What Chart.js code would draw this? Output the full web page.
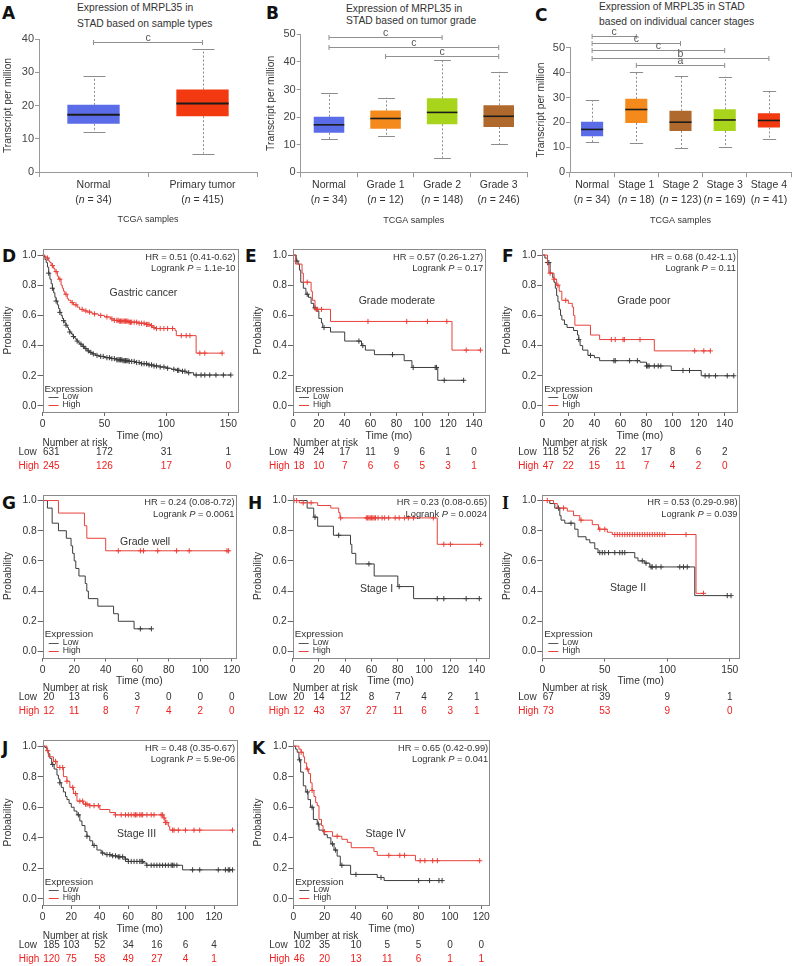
<!DOCTYPE html>
<html>
<head>
<meta charset="utf-8">
<script src="https://cdn.jsdelivr.net/npm/chart.js@4.4.1/dist/chart.umd.min.js"></script>
<style>
  body { margin: 0; background: #fff; }
  #fig { position: relative; width: 792px; height: 966px; overflow: hidden; font-family: "Liberation Sans", Arial, sans-serif; color: #333; }
  canvas { position: absolute; }
  .lt { position: absolute; font: bold 17px "DejaVu Sans", sans-serif; line-height: 17px; color: #111; }
  .tt { position: absolute; font-size: 10.3px; line-height: 12px; white-space: nowrap; color: #333; }
</style>
</head>
<body>
<div id="fig">
  <div class="lt" style="left:2px;top:5px">A</div>
  <div class="lt" style="left:266px;top:5px">B</div>
  <div class="lt" style="left:535px;top:7px">C</div>
  <div class="lt" style="left:2px;top:248px">D</div>
  <div class="lt" style="left:245px;top:248px">E</div>
  <div class="lt" style="left:502px;top:248px">F</div>
  <div class="lt" style="left:2px;top:495px">G</div>
  <div class="lt" style="left:248px;top:495px">H</div>
  <div class="lt" style="left:502px;top:495px;font-family:'Liberation Serif',serif;font-size:18px">I</div>
  <div class="lt" style="left:2px;top:740px">J</div>
  <div class="lt" style="left:252px;top:740px">K</div>

  <div class="tt" style="left:77px;top:2px">Expression of MRPL35 in</div>
  <div class="tt" style="left:77px;top:18px">STAD based on sample types</div>
  <div class="tt" style="left:346px;top:3px">Expression of MRPL35 in</div>
  <div class="tt" style="left:346px;top:15px">STAD based on tumor grade</div>
  <div class="tt" style="left:599px;top:1px">Expression of MRPL35 in STAD</div>
  <div class="tt" style="left:599px;top:16px">based on individual cancer stages</div>
</div>

<script>
// ---------- box plot data: [min, q1, median, q3, max] ----------
const aCats = ['Normal', 'Primary tumor'];
const aN = [34, 415];
const aStats = [[12, 14.5, 17.2, 20.2, 28.9], [5.5, 16.8, 20.6, 24.8, 37]];
const aColors = ['#5a6ce8', '#f2390f'];
const aSig = [[0, 1, 39.2, 'c']];

const bCats = ['Normal', 'Grade 1', 'Grade 2', 'Grade 3'];
const bN = [34, 12, 148, 246];
const bStats = [[12, 14.3, 17.2, 20.1, 28.8], [13, 15.8, 19.5, 22.4, 27], [5.3, 17.4, 21.7, 26.8, 40.6], [10.3, 16.4, 20.3, 24.3, 36.4]];
const bColors = ['#5a6ce8', '#f48a1c', '#a8d41b', '#b0692c'];
const bSig = [[0, 2, 48.9, 'c'], [0, 3, 45.3, 'c'], [1, 3, 42, 'c']];

const cCats = ['Normal', 'Stage 1', 'Stage 2', 'Stage 3', 'Stage 4'];
const cN = [34, 18, 123, 169, 41];
const cStats = [[12.2, 14.5, 17.2, 20.3, 29], [11.8, 19.8, 25.2, 29.5, 40.2], [9.7, 16.6, 20.1, 24.7, 38.7], [10.3, 16.6, 21, 25.3, 38.3], [13.2, 18, 20.8, 23.7, 32.5]];
const cColors = ['#5a6ce8', '#f48a1c', '#b0692c', '#a8d41b', '#f2390f'];
const cSig = [[0, 1, 54.8, 'c'], [0, 2, 52, 'c'], [0, 3, 48.9, 'c'], [0, 4, 46, 'b'], [1, 3, 42.9, 'a']];

// ---------- survival data: steps [time, survival], censor times, numbers at risk ----------
const kmYTicks = [0, 0.2, 0.4, 0.6, 0.8, 1.0];

const dTicks = [0, 50, 100, 150];
const dLow = [[0,1],[1,0.99],[2,0.97],[3,0.95],[4,0.92],[5,0.88],[6,0.84],[7,0.81],[8,0.78],[9,0.75],[10,0.72],[11,0.695],[12,0.67],[13,0.645],[14,0.62],[15,0.6],[16,0.58],[17,0.565],[18,0.55],[19,0.535],[20,0.52],[21,0.505],[22,0.49],[23,0.48],[24,0.47],[25,0.46],[26,0.45],[27,0.44],[28,0.43],[29,0.42],[30,0.41],[32,0.395],[34,0.38],[36,0.365],[38,0.355],[40,0.345],[43,0.335],[46,0.328],[50,0.32],[55,0.314],[60,0.306],[65,0.3],[70,0.295],[75,0.288],[80,0.28],[85,0.272],[90,0.265],[95,0.258],[100,0.25],[104,0.243],[108,0.236],[112,0.23],[116,0.22],[122,0.205]];
const dLowCens = [5,8,11,14,17,19,22,25,28,31,33,35,37,39,41,44,47,49,52,54,56,58,60,61,62,63,64,65,66,67,68,69,70,72,74,76,78,80,82,84,86,88,90,92,95,98,101,106,109,110,113,115,118,124,128,131,135,140,146,152];
const dHigh = [[0,1],[2,0.99],[3,0.98],[5,0.96],[6,0.95],[7,0.93],[9,0.91],[10,0.89],[12,0.86],[13,0.84],[15,0.8],[16,0.78],[17,0.76],[18,0.74],[20,0.71],[21,0.7],[23,0.685],[25,0.67],[28,0.655],[30,0.64],[33,0.63],[36,0.622],[40,0.61],[45,0.6],[50,0.59],[55,0.577],[58,0.567],[62,0.562],[70,0.555],[78,0.548],[84,0.54],[87,0.532],[89,0.52],[91,0.513],[107,0.5],[108,0.466],[124,0.35]];
const dHighCens = [4,8,11,14,19,24,27,32,35,38,42,47,52,56,58,60,61,62,63,64,65,66,67,68,69,70,71,72,74,76,78,80,82,84,85,86,88,90,92,95,98,101,105,112,116,119,127,131,145];
const dRiskLow = [631, 172, 31, 1];
const dRiskHigh = [245, 126, 17, 0];

const eTicks = [0, 20, 40, 60, 80, 100, 120, 140];
const eLow = [[0,1],[2.5,0.96],[4,0.94],[5,0.9],[6,0.82],[8,0.78],[10,0.74],[12,0.72],[14,0.68],[16,0.65],[18,0.63],[20,0.58],[22,0.55],[23,0.52],[29,0.49],[40,0.43],[53,0.4],[56,0.37],[63,0.34],[86,0.3],[92,0.255],[112,0.17]];
const eLowCens = [3,11,17,24,51,54,77,93,110,111,117,132];
const eHigh = [[0,1],[2,0.94],[7,0.88],[8,0.82],[14,0.76],[15,0.7],[17,0.64],[29,0.56],[123,0.37]];
const eHighCens = [11,18,19,22,58,88,104,119,134,145];
const eRiskLow = [49, 24, 17, 11, 9, 6, 1, 0];
const eRiskHigh = [18, 10, 7, 6, 6, 5, 3, 1];

const fTicks = [0, 20, 40, 60, 80, 100, 120, 140];
const fLow = [[0,1],[2,0.98],[4,0.95],[6,0.88],[8,0.85],[9,0.82],[10,0.78],[11,0.73],[12,0.69],[13,0.64],[14,0.6],[15,0.57],[17,0.54],[19,0.52],[24,0.5],[27,0.47],[28,0.44],[29,0.4],[31,0.37],[35,0.335],[40,0.32],[44,0.3],[75,0.29],[80,0.265],[99,0.235],[122,0.2]];
const fLowCens = [4,5,28,37,55,56,67,73,80,81,82,86,89,91,108,113,125,128,133,142,147];
const fHigh = [[0,1],[4,0.94],[5,0.88],[9,0.84],[11,0.8],[13,0.76],[15,0.7],[20,0.68],[23,0.655],[24,0.6],[25,0.535],[37,0.47],[44,0.44],[86,0.365]];
const fHighCens = [6,9,12,18,53,56,62,63,75,117,124,129];
const fRiskLow = [118, 52, 26, 22, 17, 8, 6, 2];
const fRiskHigh = [47, 22, 15, 11, 7, 4, 2, 0];

const gTicks = [0, 20, 40, 60, 80, 100, 120];
const gLow = [[0,1],[3,0.95],[6,0.85],[10,0.8],[15,0.75],[18,0.7],[19,0.65],[20,0.6],[21,0.55],[23,0.5],[27,0.45],[28,0.4],[29,0.35],[35,0.3],[45,0.25],[48,0.2],[58,0.15]];
const gLowCens = [62, 69];
const gHigh = [[0,1],[10,0.917],[26.5,0.833],[28,0.75],[40,0.667]];
const gHighCens = [48,62,64,73,85,93,117,118];
const gRiskLow = [20, 13, 6, 3, 0, 0, 0];
const gRiskHigh = [12, 11, 8, 7, 4, 2, 0];

const hTicks = [0, 20, 40, 60, 80, 100, 120, 140];
const hLow = [[0,1],[11,0.95],[16,0.89],[19,0.83],[31,0.77],[44,0.71],[45,0.65],[48,0.58],[62,0.5],[80,0.43],[92,0.35]];
const hLowCens = [17,35,58,81,110,115,132,142];
const hHigh = [[0,1],[5,0.985],[19,0.967],[29,0.95],[35,0.92],[36,0.885],[110,0.71]];
const hHighCens = [1,3,8,14,36.5,56,57,58,59,60,61,62,63,65,68,70,73,78,81,85,88,92,107,115,120,143];
const hRiskLow = [20, 14, 12, 8, 7, 4, 2, 1];
const hRiskHigh = [12, 43, 37, 27, 11, 6, 3, 1];

const iTicks = [0, 50, 100, 150];
const iLow = [[0,1],[6,0.98],[10,0.95],[14,0.9],[15,0.87],[18,0.85],[26,0.81],[28.6,0.76],[35,0.74],[38,0.72],[42,0.68],[44.6,0.655],[74,0.62],[76.6,0.6],[82,0.585],[86,0.56],[122,0.37]];
const iLowCens = [13,23,46,48,50,53,58,62,64,66,80,83,87,88,91,95,110,113,116,148,151];
const iHigh = [[0,1],[9,0.98],[12,0.95],[20,0.93],[25,0.9],[30,0.87],[40,0.84],[45,0.81],[52,0.79],[56,0.775],[123,0.385]];
const iHighCens = [4,17,31,46,50,58,60,62,64,66,68,70,72,74,76,78,80,82,84,86,88,90,92,94,96,98,115,129];
const iRiskLow = [67, 39, 9, 1];
const iRiskHigh = [73, 53, 9, 0];

const jTicks = [0, 20, 40, 60, 80, 100, 120];
const jLow = [[0,1],[1.6,0.99],[3,0.97],[4,0.95],[5,0.92],[6.3,0.88],[8,0.85],[10,0.81],[11,0.785],[12,0.76],[13,0.73],[14.5,0.7],[16,0.67],[17,0.65],[18.5,0.625],[20,0.6],[22,0.575],[24,0.55],[26,0.51],[27.5,0.48],[29.6,0.44],[31,0.41],[33,0.38],[35,0.35],[38,0.32],[41,0.3],[43.7,0.29],[48,0.282],[52,0.275],[57.7,0.26],[60,0.245],[70.5,0.235],[72.8,0.22],[98,0.19]];
const jLowCens = [7,12,25,31,36,42,45,47,49,51,53,54,56,58,60,62,64,66,68,69,70,73,76,78,80,82,84,86,88,90,91,92,94,105,110,123,128,130,131,133];
const jHigh = [[0,1],[3,0.97],[4,0.93],[7.5,0.9],[10,0.86],[14.5,0.8],[17,0.77],[19,0.73],[21.5,0.69],[24,0.64],[28.5,0.62],[33,0.61],[40,0.585],[47,0.565],[50.7,0.55],[84.5,0.53],[85.7,0.5],[88,0.475],[89,0.45]];
const jHighCens = [3.5,9,12,14,17,21,23,26,28,30,31,33,36,39,51,55,58,60,62,64,65,66,68,69,70,73,76,78,83,84,85,86,87,91,92,95,100,106,110,133];
const jRiskLow = [185, 103, 52, 34, 16, 6, 4];
const jRiskHigh = [120, 75, 58, 49, 27, 4, 1];

const kTicks = [0, 20, 40, 60, 80, 100, 120];
const kLow = [[0,1],[1.5,0.98],[2.5,0.96],[3.6,0.91],[4.7,0.83],[6.4,0.74],[8,0.7],[9.4,0.65],[11,0.6],[12.8,0.52],[15.3,0.49],[16.4,0.45],[19.6,0.42],[21.7,0.4],[24,0.36],[26,0.32],[28,0.28],[30,0.22],[36.6,0.16],[53.6,0.14],[58,0.12]];
const kLowCens = [4,9,12,16,25,27,31,40,56,80,87,93,95];
const kHigh = [[0,1],[3.6,0.98],[5,0.96],[6.4,0.93],[7.2,0.89],[8.5,0.85],[9.8,0.82],[11,0.76],[12,0.71],[13.2,0.67],[14.3,0.63],[15.3,0.61],[16.4,0.52],[18,0.48],[19,0.44],[25,0.41],[31,0.39],[34.5,0.37],[37,0.335],[51.5,0.31],[53.6,0.285],[78,0.25]];
const kHighCens = [5,9,12,20,28,61,68,71,81,84,89,92,119];
const kRiskLow = [102, 35, 10, 5, 5, 0, 0];
const kRiskHigh = [46, 20, 13, 11, 6, 1, 1];

// ---------- drawing ----------
const FONT = '"Liberation Sans", Arial, sans-serif';
const RED = '#e8403a';
const RISKRED = '#ee2020';
const GREY = '#3c3c3c';
const FRAME = '#8a8a8a';

Chart.defaults.font.family = FONT;
Chart.defaults.color = '#333';
Chart.defaults.animation = false;

function addCanvas(x, y, w, h) {
  const c = document.createElement('canvas');
  c.width = w; c.height = h;
  c.style.left = x + 'px'; c.style.top = y + 'px';
  document.getElementById('fig').appendChild(c);
  return c;
}

function line(ctx, x1, y1, x2, y2) {
  ctx.beginPath(); ctx.moveTo(x1, y1); ctx.lineTo(x2, y2); ctx.stroke();
}

// text made of [string, italic] pieces
function richText(ctx, segs, x, y, align, size) {
  let total = 0;
  segs.forEach(s => {
    ctx.font = (s[1] ? 'italic ' : '') + size + 'px ' + FONT;
    s.w = ctx.measureText(s[0]).width;
    total += s.w;
  });
  let x0 = align === 'right' ? x - total : align === 'center' ? x - total / 2 : x;
  ctx.textAlign = 'left';
  segs.forEach(s => {
    ctx.font = (s[1] ? 'italic ' : '') + size + 'px ' + FONT;
    ctx.fillText(s[0], x0, y);
    x0 += s.w;
  });
}

function boxPlugin(cfg) {
  return {
    id: 'box' + cfg.id,
    afterDatasetsDraw(chart) {
      const {ctx, chartArea: a, scales: {x, y}} = chart;
      const bars = chart.getDatasetMeta(0).data;
      ctx.save();
      bars.forEach((bar, i) => {
        const s = cfg.stats[i];
        const bx = Math.round(bar.x) + 0.5, w = bar.width;
        ctx.strokeStyle = '#8c8c8c'; ctx.lineWidth = 1;
        ctx.setLineDash([2, 2]);
        line(ctx, bx, y.getPixelForValue(s[3]), bx, y.getPixelForValue(s[4]));
        line(ctx, bx, y.getPixelForValue(s[1]), bx, y.getPixelForValue(s[0]));
        ctx.setLineDash([]);
        const cw = w * cfg.cap / 2;
        [s[0], s[4]].forEach(v => {
          const py = Math.round(y.getPixelForValue(v)) + 0.5;
          line(ctx, bx - cw, py, bx + cw, py);
        });
        ctx.strokeStyle = '#1c1c1c'; ctx.lineWidth = cfg.medW;
        const my = y.getPixelForValue(s[2]);
        line(ctx, bar.x - w / 2, my, bar.x + w / 2, my);
      });
      // significance brackets
      ctx.strokeStyle = '#909090'; ctx.lineWidth = 1;
      ctx.fillStyle = '#555';
      cfg.sig.forEach(([i, j, v, lab]) => {
        const x1 = x.getPixelForValue(i), x2 = x.getPixelForValue(j);
        const py = Math.round(y.getPixelForValue(v)) + 0.5;
        line(ctx, x1, py, x2, py);
        line(ctx, x1, py - 2.5, x1, py + 2.5);
        line(ctx, x2, py - 2.5, x2, py + 2.5);
        ctx.font = '10.5px ' + FONT; ctx.textAlign = 'center'; ctx.textBaseline = 'alphabetic';
        ctx.fillText(lab, (x1 + x2) / 2, py - 2);
      });
      // category labels
      ctx.fillStyle = '#333'; ctx.textBaseline = 'middle';
      cfg.cats.forEach((c, i) => {
        const px = x.getPixelForValue(i);
        ctx.font = '10.5px ' + FONT; ctx.textAlign = 'center';
        ctx.fillText(c, px, a.bottom + 13);
        richText(ctx, [['(', false], ['n', true], [' = ' + cfg.n[i] + ')', false]], px, a.bottom + 28, 'center', 10.5);
      });
      ctx.font = '9px ' + FONT; ctx.textAlign = 'center';
      ctx.fillText('TCGA samples', (a.left + a.right) / 2, a.bottom + 48);
      ctx.restore();
    }
  };
}

function boxChart(cfg) {
  const W = 264, H = 225;
  const cv = addCanvas(cfg.cx, 0, W, H);
  const yW = cfg.left - cfg.cx;
  new Chart(cv, {
    type: 'bar',
    data: {
      labels: cfg.cats,
      datasets: [{
        data: cfg.stats.map(s => [s[1], s[3]]),
        backgroundColor: cfg.colors,
        barPercentage: cfg.barPct,
        categoryPercentage: 1,
        borderWidth: 0
      }]
    },
    options: {
      responsive: false,
      animation: false,
      layout: { padding: { left: 0, top: cfg.top, right: cfg.cx + W - cfg.right, bottom: H - cfg.bottom - 6 } },
      plugins: { legend: { display: false }, tooltip: { enabled: false } },
      scales: {
        x: {
          offset: true,
          grid: { offset: true, drawOnChartArea: false, tickLength: 5, color: '#999' },
          border: { color: '#999' },
          ticks: { display: false },
          afterFit: s => { s.height = 6; }
        },
        y: {
          min: 0, max: cfg.yMax,
          grid: { drawOnChartArea: false, tickLength: 4, color: '#999' },
          border: { color: '#999' },
          ticks: { stepSize: 10, padding: 1, font: { size: 11 }, color: '#444' },
          title: { display: true, text: 'Transcript per million', font: { size: 10.3 }, padding: { top: cfg.titlePad, bottom: 0 }, color: '#333' },
          afterFit: s => { s.width = yW; }
        }
      }
    },
    plugins: [boxPlugin(cfg)]
  });
}

boxChart({ id: 'A', cx: 0, left: 39, right: 257, top: 39, bottom: 172, yMax: 40, cats: aCats, n: aN, stats: aStats, colors: aColors, sig: aSig, barPct: 0.48, cap: 0.42, medW: 2, titlePad: 2 });
boxChart({ id: 'B', cx: 264, left: 300.7, right: 527, top: 34.3, bottom: 172.3, yMax: 50, cats: bCats, n: bN, stats: bStats, colors: bColors, sig: bSig, barPct: 0.54, cap: 0.55, medW: 1.6, titlePad: 0.7 });
boxChart({ id: 'C', cx: 528, left: 570, right: 791, top: 47.7, bottom: 172.3, yMax: 50, cats: cCats, n: cN, stats: cStats, colors: cColors, sig: cSig, barPct: 0.5, cap: 0.6, medW: 1.6, titlePad: 7 });

// ---------- Kaplan-Meier panels ----------
function survAt(steps, t) {
  let s = 1;
  steps.forEach(([x, y]) => { if (x <= t) s = y; });
  return s;
}
function stepData(steps, cens) {
  const pts = steps.map(([x, y]) => ({ x, y }));
  const end = Math.max(...cens);
  const last = steps[steps.length - 1];
  if (end > last[0]) pts.push({ x: end, y: last[1] });
  return pts;
}

function kmPlugin(p) {
  return {
    id: 'km' + p.id,
    afterDraw(chart) {
      const {ctx, chartArea: a, scales: {x, y}} = chart;
      ctx.save();
      ctx.strokeStyle = FRAME; ctx.lineWidth = 1;
      ctx.strokeRect(Math.round(a.left) + 0.5, Math.round(a.top) + 0.5, Math.round(a.right - a.left), Math.round(a.bottom - a.top));
      ctx.fillStyle = '#333'; ctx.textBaseline = 'middle';
      // HR and log-rank P
      richText(ctx, [['HR = ' + p.hr, false]], a.right - 1.5, a.top + 8, 'right', 9.3);
      richText(ctx, [['Logrank ', false], ['P', true], [' = ' + p.p, false]], a.right - 1.5, a.top + 19.5, 'right', 9.3);
      // subgroup name
      ctx.font = '10.5px ' + FONT; ctx.textAlign = 'center';
      ctx.fillText(p.name, x.getPixelForValue(p.nameAt[0]), y.getPixelForValue(p.nameAt[1]));
      // legend
      ctx.textAlign = 'left';
      ctx.font = '9.8px ' + FONT;
      ctx.fillText('Expression', a.left + 2, a.bottom - 23);
      ctx.font = '8.7px ' + FONT;
      ctx.lineWidth = 1;
      ctx.strokeStyle = '#555';
      line(ctx, a.left + 6, Math.round(a.bottom - 15) + 0.5, a.left + 16, Math.round(a.bottom - 15) + 0.5);
      ctx.fillText('Low', a.left + 20, a.bottom - 15);
      ctx.strokeStyle = RED;
      line(ctx, a.left + 6, Math.round(a.bottom - 7) + 0.5, a.left + 16, Math.round(a.bottom - 7) + 0.5);
      ctx.fillText('High', a.left + 20, a.bottom - 7);
      // number at risk
      ctx.font = '10px ' + FONT;
      ctx.fillText('Number at risk', a.left, a.bottom + 31);
      [[p.riskLow, 'Low', '#333', 40], [p.riskHigh, 'High', RISKRED, 54]].forEach(([vals, lab, col, dy]) => {
        ctx.fillStyle = col; ctx.textAlign = 'left';
        ctx.fillText(lab, a.left - 24, a.bottom + dy);
        vals.forEach((v, i) => {
          const px = x.getPixelForValue(p.ticks[i]);
          ctx.textAlign = i === 0 ? 'left' : 'center';
          ctx.fillText(String(v), i === 0 ? px + 0.5 : px, a.bottom + dy);
        });
      });
      ctx.restore();
    }
  };
}

function kmChart(p) {
  const cx = Math.floor(p.left) - 42, cy = Math.floor(p.top) - 10;
  const w = Math.ceil(p.right) + 14 - cx, h = Math.ceil(p.bottom) + 62 - cy;
  const cv = addCanvas(cx, cy, w, h);
  const censSet = (steps, times, col) => ({
    data: times.map(t => ({ x: t, y: survAt(steps, t) })),
    showLine: false, pointStyle: 'cross', pointRadius: 2.6,
    pointBorderColor: col, pointBackgroundColor: col, pointBorderWidth: 1, borderColor: col
  });
  const curve = (steps, times, col) => ({
    data: stepData(steps, times), stepped: true,
    borderColor: col, borderWidth: 1, pointRadius: 0, fill: false
  });
  new Chart(cv, {
    type: 'line',
    data: {
      datasets: [
        censSet(p.high, p.highCens, RED), curve(p.high, p.highCens, RED),
        censSet(p.low, p.lowCens, GREY), curve(p.low, p.lowCens, GREY)
      ]
    },
    options: {
      responsive: false,
      animation: false,
      layout: { padding: { left: p.left - cx - 42, top: p.top - cy, right: cx + w - p.right, bottom: cy + h - p.bottom - 31 } },
      plugins: { legend: { display: false }, tooltip: { enabled: false } },
      scales: {
        x: {
          type: 'linear', min: 0, max: p.xMax,
          afterBuildTicks: s => { s.ticks = p.ticks.map(v => ({ value: v })); },
          grid: { drawOnChartArea: false, tickLength: 4, color: '#666' },
          border: { display: false },
          ticks: { autoSkip: false, maxRotation: 0, padding: 2, font: { size: 10.3 }, callback: v => String(v) },
          title: { display: true, text: 'Time (mo)', font: { size: 10.3 }, padding: { top: 0, bottom: 1 } },
          afterFit: s => { s.height = 31; }
        },
        y: {
          min: -0.04, max: 1.04,
          afterBuildTicks: s => { s.ticks = kmYTicks.map(v => ({ value: v })); },
          grid: { drawOnChartArea: false, tickLength: 5, color: '#666' },
          border: { display: false },
          ticks: { padding: 1, font: { size: 10.3 }, callback: v => v.toFixed(1) },
          title: { display: true, text: 'Probability', font: { size: 10.3 }, padding: { top: 1, bottom: 0 } },
          afterFit: s => { s.width = 42; }
        }
      }
    },
    plugins: [kmPlugin(p)]
  });
}

kmChart({ id: 'D', left: 42.5, right: 237, top: 249, bottom: 412, xMax: 157, ticks: dTicks, low: dLow, lowCens: dLowCens, high: dHigh, highCens: dHighCens, riskLow: dRiskLow, riskHigh: dRiskHigh, hr: '0.51 (0.41-0.62)', p: '1.1e-10', name: 'Gastric cancer', nameAt: [81.5, 0.75] });
kmChart({ id: 'E', left: 293, right: 484.7, top: 249, bottom: 412, xMax: 148.3, ticks: eTicks, low: eLow, lowCens: eLowCens, high: eHigh, highCens: eHighCens, riskLow: eRiskLow, riskHigh: eRiskHigh, hr: '0.57 (0.26-1.27)', p: '0.17', name: 'Grade moderate', nameAt: [80.4, 0.695] });
kmChart({ id: 'F', left: 542.3, right: 737.3, top: 249, bottom: 412, xMax: 149.7, ticks: fTicks, low: fLow, lowCens: fLowCens, high: fHigh, highCens: fHighCens, riskLow: fRiskLow, riskHigh: fRiskHigh, hr: '0.68 (0.42-1.1)', p: '0.11', name: 'Grade poor', nameAt: [78, 0.695] });
kmChart({ id: 'G', left: 42.7, right: 236, top: 494.5, bottom: 657.5, xMax: 122.7, ticks: gTicks, low: gLow, lowCens: gLowCens, high: gHigh, highCens: gHighCens, riskLow: gRiskLow, riskHigh: gRiskHigh, hr: '0.24 (0.08-0.72)', p: '0.0061', name: 'Grade well', nameAt: [65, 0.727] });
kmChart({ id: 'H', left: 292.7, right: 488.5, top: 494.5, bottom: 657.5, xMax: 149, ticks: hTicks, low: hLow, lowCens: hLowCens, high: hHigh, highCens: hHighCens, riskLow: hRiskLow, riskHigh: hRiskHigh, hr: '0.23 (0.08-0.65)', p: '0.0024', name: 'Stage I', nameAt: [63.8, 0.414] });
kmChart({ id: 'I', left: 542.3, right: 739, top: 494.5, bottom: 657.5, xMax: 157.4, ticks: iTicks, low: iLow, lowCens: iLowCens, high: iHigh, highCens: iHighCens, riskLow: iRiskLow, riskHigh: iRiskHigh, hr: '0.53 (0.29-0.98)', p: '0.039', name: 'Stage II', nameAt: [68.6, 0.417] });
kmChart({ id: 'J', left: 42.7, right: 236.7, top: 740, bottom: 905, xMax: 135.9, ticks: jTicks, low: jLow, lowCens: jLowCens, high: jHigh, highCens: jHighCens, riskLow: jRiskLow, riskHigh: jRiskHigh, hr: '0.48 (0.35-0.67)', p: '5.9e-06', name: 'Stage III', nameAt: [65.7, 0.425] });
kmChart({ id: 'K', left: 293.3, right: 489.7, top: 740, bottom: 905, xMax: 125.4, ticks: kTicks, low: kLow, lowCens: kLowCens, high: kHigh, highCens: kHighCens, riskLow: kRiskLow, riskHigh: kRiskHigh, hr: '0.65 (0.42-0.99)', p: '0.041', name: 'Stage IV', nameAt: [59, 0.425] });
</script>
</body>
</html>
